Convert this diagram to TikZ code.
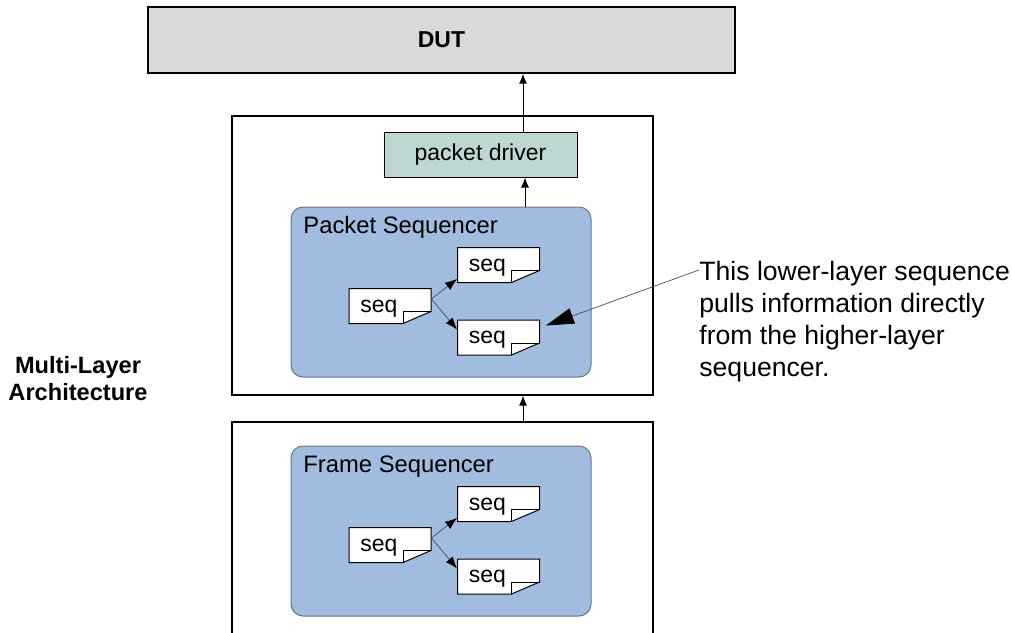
\documentclass[tikz,border=0pt]{standalone}
\usepackage{fontspec}
\setmainfont{Liberation Sans}
\usepackage{tikz}
\usetikzlibrary{calc,arrows.meta}
\usepackage{xcolor}
\definecolor{dutgray}{RGB}{217,217,217}
\definecolor{drivergreen}{RGB}{190,215,210}
\definecolor{seqblue}{RGB}{162,188,224}
\definecolor{seqedge}{RGB}{105,118,140}
\newcommand{\txt}{\fontsize{11.5}{13.5}\selectfont}
\newcommand{\seqdoc}[3]{\filldraw[fill=white,draw=black,line width=0.5pt] ($(#2,#3)+(-41,-17.5)$) -- ++(82,0) -- ++(0,23) -- ++(-28,12) -- ++(-54,0) -- cycle;
  \draw[line width=0.5pt] ($(#2,#3)+(13,17.5)$) -- ++(0,-12) -- ++(28,0);
  \node[seqbox] (#1) at (#2,#3) {};
  \node[anchor=base west,font=\txt,inner sep=0pt] (#1txt) at ($(#1.center)+(-30,6)$) {seq};}

\begin{document}
\begin{tikzpicture}[x=0.5pt,y=-0.5pt,
    layer/.style={draw=black,line width=0.6pt,minimum width=210.5pt},
    seqbox/.style={minimum width=41pt,minimum height=17.5pt,inner sep=0pt},
    sequencer/.style={draw=seqedge,fill=seqblue,line width=0.5pt,rounded corners=6pt,minimum width=150pt,minimum height=85pt},
    seqname/.style={anchor=base west,font=\fontsize{11.9}{14}\selectfont,inner sep=0pt},
    uparrow/.style={line width=0.5pt,-{Latex[length=5pt,width=4pt]}},
    seqarrow/.style={draw=black!70,line width=0.35pt,-{Latex[length=6pt,width=4.5pt,color=black]}},
    pointer/.style={draw=black!70,line width=0.35pt,-{Triangle[length=14pt,width=8pt,color=black]}}]
    \useasboundingbox (0,0) rectangle (1012,632);
    \clip (0,0) rectangle (1012,632);
    \coordinate (bus) at (523,0);

    \node[draw=black,line width=0.7pt,fill=dutgray,minimum width=293.5pt,minimum height=33pt,font=\txt\bfseries] (dut) at (441.5,40) {DUT};

    \node[layer,minimum height=139.5pt] (uplayer) at (442.5,255.5) {};
    \node[layer,minimum height=114pt] (lowlayer) at (442.5,536) {};

    \node[draw=black,line width=0.5pt,fill=drivergreen,minimum width=96.5pt,minimum height=22.5pt,font=\txt] (driver) at (480.5,154.5) {packet driver};

    \node[sequencer] (pseq) at (441,292) {};
    \node[seqname] (pseqlabel) at (303,233) {Packet Sequencer};
    \node[sequencer] (fseq) at (441,531) {};
    \node[seqname] (fseqlabel) at (303,472) {Frame Sequencer};

    \seqdoc{p1}{390}{306}
    \seqdoc{p2}{498.5}{265}
    \seqdoc{p3}{498.5}{337.5}
    \seqdoc{f1}{390}{545}
    \seqdoc{f2}{498.5}{504}
    \seqdoc{f3}{498.5}{576.5}

    \draw[seqarrow] ([yshift=3.5pt]p1.east) -- ([yshift=2pt]p2.south west);
    \draw[seqarrow] ([yshift=3.5pt]p1.east) -- ([yshift=-5pt]p3.north west);
    \draw[seqarrow] ([yshift=3.5pt]f1.east) -- ([yshift=2pt]f2.south west);
    \draw[seqarrow] ([yshift=3.5pt]f1.east) -- ([yshift=-5pt]f3.north west);

    \draw[uparrow] (driver.north -| bus) -- (dut.south -| bus);
    \draw[uparrow] ([xshift=1pt]pseq.north -| bus) -- ([xshift=1pt]driver.south -| bus);
    \draw[uparrow] (lowlayer.north -| bus) -- (uplayer.south -| bus);

    \node[font=\fontsize{11.8}{13.5}\selectfont\bfseries,align=center] (arch) at (78,379) {Multi-Layer\\Architecture};

    \node[anchor=north west,inner sep=0pt,align=left,font=\fontsize{13.3}{16}\selectfont] (callout) at (699,261) {This lower-layer sequence\\pulls information directly\\from the higher-layer\\sequencer.};
    \draw[pointer] ([yshift=-4.5pt]callout.north west) -- ([xshift=3pt,yshift=6pt]p3.east);
\end{tikzpicture}
\end{document}
